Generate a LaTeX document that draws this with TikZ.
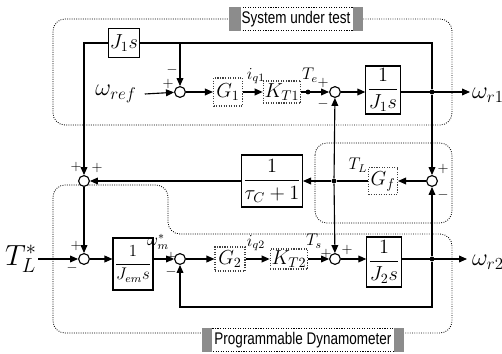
\documentclass[tikz,border=0pt]{standalone}
\usepackage{amsmath}
\usepackage{fontspec}
\newfontfamily\tagfont[FakeStretch=0.8]{Liberation Sans}
\usepackage{tikz}
\usetikzlibrary{arrows.meta}

\tikzset{
  blk/.style={draw,thick,fill=white,inner sep=1pt,font=\Large},
  dblk/.style={draw=black!75,densely dotted,thick,fill=white,inner sep=1pt,font=\Large},
  sumpt/.style={draw,thick,circle,minimum size=2.7mm,inner sep=0pt,fill=white},
  sgn/.style={font=\normalsize,inner sep=0pt},
  sig/.style={font=\large,inner sep=0pt},
  region/.style={densely dotted,semithick,rounded corners=3mm},
  tag/.style={draw,densely dotted,fill=white,font=\tagfont\fontsize{12}{14}\selectfont,
    minimum height=5.75mm,inner sep=0pt},
  jdot/.style={circle,fill,inner sep=0pt,minimum size=1.2mm}
}

\begin{document}
\begin{tikzpicture}[>={Triangle[length=2mm,width=1.7mm]},x=0.25mm,y=-0.25mm,thick]
  \useasboundingbox (0,0) rectangle (502,354);

  % dotted regions
  \draw[region] (230,19) -- (53,19) -- (53,125) -- (452,125) -- (452,19) -- (362,19);
  \draw[region] (315,143) rectangle (452,223);
  \draw[region] (203,333) -- (53,333) -- (53,185) -- (168,185) -- (168,234)
        -- (452,234) -- (452,333) -- (403,333);

  % system under test
  \node[blk,minimum width=6.25mm,minimum height=7.25mm] (J1s) at (124,43) {$J_1 s$};
  \node[font=\LARGE] (wref) at (116,94) {$\omega_{ref}$};
  \node[sumpt] (s1) at (180,92) {};
  \node[dblk,minimum width=7.25mm,minimum height=7mm] (G1) at (228,92) {$G_1$};
  \node[dblk,minimum width=6.75mm,minimum height=5.5mm] (KT1) at (282,92) {$K_{T1}$};
  \node[sumpt] (s2) at (335,92) {};
  \node[blk,minimum width=7.25mm,minimum height=12mm] (J1b) at (383,90) {$\dfrac{1}{J_1 s}$};
  \node[jdot] (j1) at (432,92) {};
  \node[jdot] (te) at (308,92) {};
  \coordinate (o1) at (470,92);
  \coordinate (tap1) at (180,43);
  \coordinate (tr) at (432,43);
  \node[font=\LARGE] (wr1) at (488,95) {$\omega_{r1}$};

  % load emulation
  \node[sumpt] (s3) at (432,181) {};
  \node[dblk,minimum width=7.25mm,minimum height=6.75mm] (Gf) at (383,181) {$G_f$};
  \node[jdot] (jT) at (334,181) {};
  \node[blk,minimum width=9.5mm,minimum height=13mm] (tauc) at (272,181) {$\dfrac{1}{\tau_C+1}$};
  \node[sumpt] (s4) at (84,181) {};

  % programmable dynamometer
  \node[font=\huge] (TL) at (21,259) {$T_L^*$};
  \coordinate (tin) at (38,259);
  \node[sumpt] (s5) at (84,259) {};
  \node[blk,font=\large,minimum width=7.5mm,minimum height=13mm] (Jem) at (133,264) {$\dfrac{1}{J_{em}s}$};
  \node[sumpt] (s6) at (180,259) {};
  \node[dblk,minimum width=7.5mm,minimum height=6mm] (G2) at (230,259) {$G_2$};
  \node[dblk,minimum width=7mm,minimum height=5mm] (KT2) at (289,259) {$K_{T2}$};
  \node[sumpt] (s7) at (335,259) {};
  \node[blk,minimum width=7mm,minimum height=12.5mm] (J2b) at (384,262) {$\dfrac{1}{J_2 s}$};
  \node[jdot] (j2) at (432,259) {};
  \coordinate (o2) at (467,259);
  \coordinate (fbr) at (432,307);
  \coordinate (fbl) at (180,307);
  \node[font=\LARGE] (wr2) at (488,262) {$\omega_{r2}$};

  % connectors, top row
  \draw[->] (wref.east) ++(3,0) -- (s1);
  \draw[->] (s1) -- (G1);
  \draw[->] (G1) -- (KT1);
  \draw[->] (KT1) -- (s2);
  \draw[->] (s2) -- (J1b.west |- s2);
  \draw[->] (J1b.east |- j1) -- (o1);
  \draw (j1) -- (tr) -- (J1s);
  \draw[->] (tap1) -- (s1);
  \draw[->] (J1s) -| (s4);
  \draw[->] (j1) -- (s3);

  % middle row
  \draw[->] (s3) -- (Gf);
  \draw (Gf) -- (jT);
  \draw[->] (jT) -- (tauc);
  \draw[->] (tauc) -- (s4);
  \draw[->] (jT) -- (s2);
  \draw[->] (jT) -- (s7);
  \draw[->] (s4) -- (s5);

  % bottom row
  \draw[->] (tin) -- (s5);
  \draw[->] (s5) -- (Jem.west |- s5);
  \draw[->] (Jem.east |- s6) -- (s6);
  \draw[->] (s6) -- (G2);
  \draw[->] (G2) -- (KT2);
  \draw[->] (KT2) -- (s7);
  \draw[->] (s7) -- (J2b.west |- s7);
  \draw[->] (J2b.east |- j2) -- (o2);
  \draw[->] (j2) -- (s3);
  \draw[->] (j2) -- (fbr) -- (fbl) -- (s6);

  % signal names
  \node[sig] at (256,76) {$i_{q1}$};
  \node[sig] at (310,75) {$T_e$};
  \node[sig] at (358,165) {$T_L$};
  \node[sig] at (158,242) {$\omega_m^*$};
  \node[sig] at (256,243) {$i_{q2}$};
  \node[sig] at (314,241) {$T_s$};

  % signs
  \node[sgn] at (168,84) {$+$};
  \node[sgn] at (172,70) {$-$};
  \node[sgn] at (323,83) {$+$};
  \node[sgn] at (323,104) {$-$};
  \node[sgn] at (443,169) {$+$};
  \node[sgn] at (443,195) {$-$};
  \node[sgn] at (76,167) {$+$};
  \node[sgn] at (97,168) {$+$};
  \node[sgn] at (76,246) {$+$};
  \node[sgn] at (72,268) {$-$};
  \node[sgn] at (171,257) {$+$};
  \node[sgn] at (171,272) {$-$};
  \node[sgn] at (326,254) {$+$};
  \node[sgn] at (347,250) {$+$};

  % region tags
  \node[tag,minimum width=33mm] (sut) at (296,19) {System under test};
  \fill[black!45] (sut.north west) rectangle ([xshift=3mm]sut.south west);
  \fill[black!45] (sut.north east) rectangle ([xshift=-2.5mm]sut.south east);
  \node[tag,minimum width=50mm] (pd) at (303,340) {Programmable Dynamometer};
  \fill[black!45] (pd.north west) rectangle ([xshift=2.5mm]pd.south west);
  \fill[black!45] (pd.north east) rectangle ([xshift=-2.5mm]pd.south east);
\end{tikzpicture}
\end{document}
